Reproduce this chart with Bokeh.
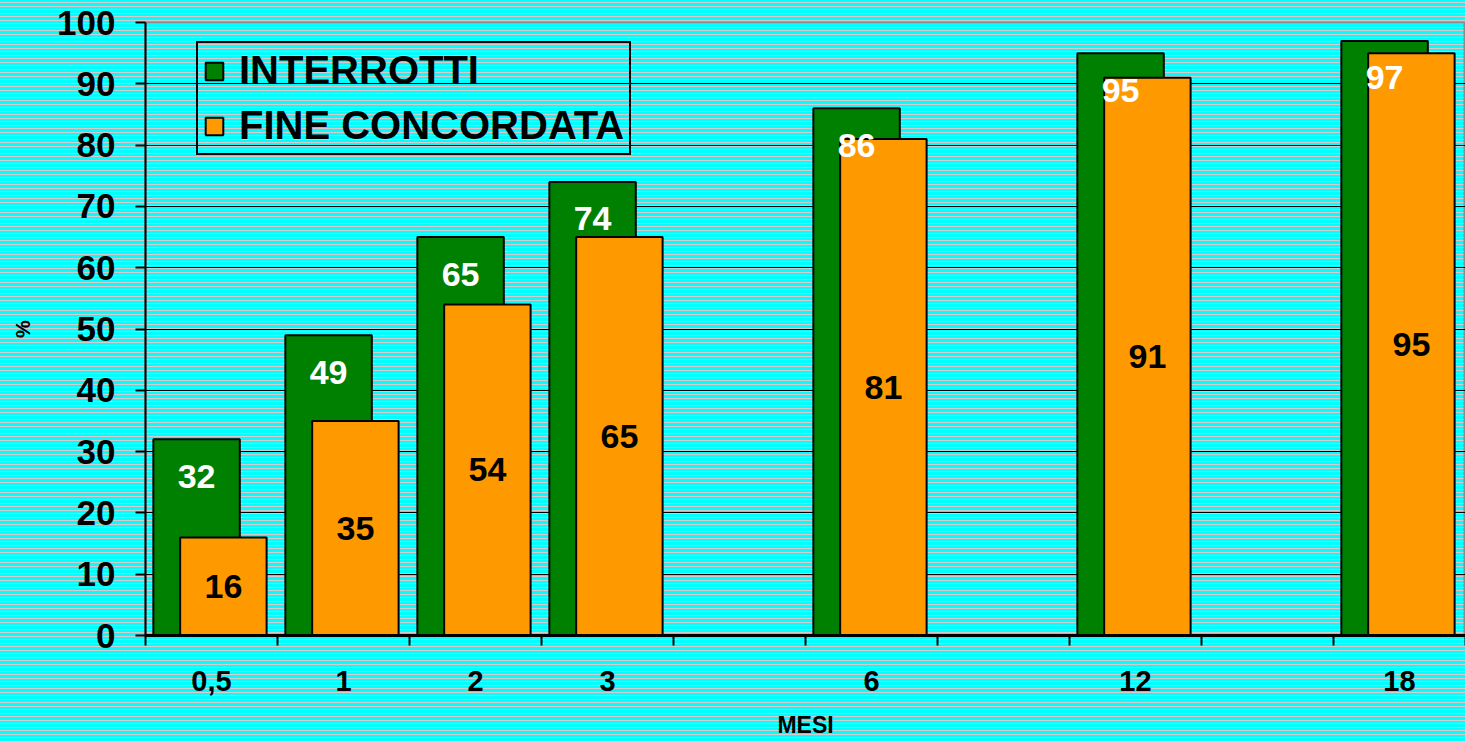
from bokeh.plotting import figure
from bokeh.models import ColumnDataSource, Range1d, FixedTicker, Legend, LegendItem
from bokeh.transform import dodge
from bokeh.core.properties import value
from bokeh.embed import file_html
from bokeh.resources import INLINE

# ---- data ----
slots = ["0,5", "1", "2", "3", " ", "6", "  ", "12", "   ", "18"]
months = ["0,5", "1", "2", "3", "6", "12", "18"]
interrotti = [32, 49, 65, 74, 86, 95, 97]
fine_concordata = [16, 35, 54, 65, 81, 91, 95]
y_ticks = [0, 10, 20, 30, 40, 50, 60, 70, 80, 90, 100]

FONT = "Liberation Sans"
GREEN = "#008000"
ORANGE = "#FF9900"

src = ColumnDataSource(dict(
    x=[slots.index(m) + 0.5 for m in months],
    g=interrotti,
    o=fine_concordata,
    o_mid=[v / 2 for v in fine_concordata],
    glab=[str(v) for v in interrotti],
    olab=[str(v) for v in fine_concordata],
))

p = figure(width=1465, height=741, output_backend="svg", toolbar_location=None,
           x_range=Range1d(0, len(slots)), y_range=Range1d(0, 100),
           min_border_left=145, min_border_right=0, min_border_top=22, min_border_bottom=106)

# striped cyan background behind a transparent canvas
p.background_fill_alpha = 0
p.border_fill_alpha = 0
p.styles = {
    "background": "repeating-linear-gradient(to bottom, #00FFFF 0px, #00FFFF 2.5px, "
                  "#d6caca 2.5px, #d6caca 3.5px)",
}
p.outline_line_color = "#8c8c8c"
p.outline_line_width = 2

# grid
p.xgrid.visible = False
p.ygrid.grid_line_color = "black"
p.ygrid.grid_line_width = 1
p.ygrid.ticker = FixedTicker(ticks=y_ticks)

# y axis
ya = p.yaxis[0]
ya.ticker = FixedTicker(ticks=y_ticks)
ya.axis_line_color = "black"
ya.axis_line_width = 2
ya.major_tick_out = 10
ya.major_tick_in = 0
ya.minor_tick_out = 0
ya.minor_tick_in = 0
ya.major_tick_line_width = 2
ya.major_tick_line_color = "black"
ya.major_label_text_color = "black"
ya.major_label_text_font = FONT
ya.major_label_text_font_style = "bold"
ya.major_label_text_font_size = "35px"
ya.major_label_standoff = 20
ya.axis_label = "%"
ya.axis_label_text_color = "black"
ya.axis_label_text_font = FONT
ya.axis_label_text_font_style = "bold"
ya.axis_label_text_font_size = "20px"
ya.axis_label_standoff = 20

# x axis: labels at slot centres, ticks at slot boundaries
centers = [i + 0.5 for i in range(len(slots))]
xa = p.xaxis[0]
xa.ticker = FixedTicker(ticks=centers, minor_ticks=list(range(len(slots) + 1)))
xa.major_label_overrides = {c: s for c, s in zip(centers, slots)}
xa.axis_line_color = "black"
xa.axis_line_width = 3
xa.major_tick_out = 0
xa.major_tick_in = 0
xa.minor_tick_out = 10
xa.minor_tick_in = 0
xa.minor_tick_line_width = 2
xa.minor_tick_line_color = "black"
xa.major_label_text_color = "black"
xa.major_label_text_font = FONT
xa.major_label_text_font_style = "bold"
xa.major_label_text_font_size = "29px"
xa.major_label_standoff = 19
xa.axis_label = "MESI"
xa.axis_label_text_color = "black"
xa.axis_label_text_font = FONT
xa.axis_label_text_font_style = "bold"
xa.axis_label_text_font_size = "23px"
xa.axis_label_standoff = 12

# bars
W = 0.655
GOFF, OOFF = -0.113, 0.09
gbar = p.vbar(x=dodge("x", GOFF), top="g", width=W, bottom=0, source=src,
              fill_color=GREEN, line_color="black", line_width=2)
obar = p.vbar(x=dodge("x", OOFF), top="o", width=W, bottom=0, source=src,
              fill_color=ORANGE, line_color="black", line_width=2)

# labels
p.text(x=dodge("x", GOFF), y="g", text="glab", source=src,
       text_color="white", text_align="center", text_baseline="middle", y_offset=37,
       text_font=value(FONT), text_font_style="bold", text_font_size="34px")
p.text(x=dodge("x", OOFF), y="o_mid", text="olab", source=src,
       text_color="black", text_align="center", text_baseline="middle",
       text_font=value(FONT), text_font_style="bold", text_font_size="34px")

legend = Legend(items=[LegendItem(label="INTERROTTI", renderers=[gbar]),
                       LegendItem(label="FINE CONCORDATA", renderers=[obar])],
                location=(51, 480))
legend.label_text_font = FONT
legend.label_text_font_style = "bold"
legend.label_text_font_size = "40px"
legend.label_text_color = "black"
legend.glyph_width = 22
legend.glyph_height = 22
legend.label_standoff = 14
legend.padding = 5
legend.spacing = 10
legend.margin = 0
legend.border_line_color = "black"
legend.border_line_alpha = 1
legend.border_line_width = 2
legend.background_fill_alpha = 0
p.add_layout(legend, "center")

open("out.html", "w").write(file_html(p, INLINE))
